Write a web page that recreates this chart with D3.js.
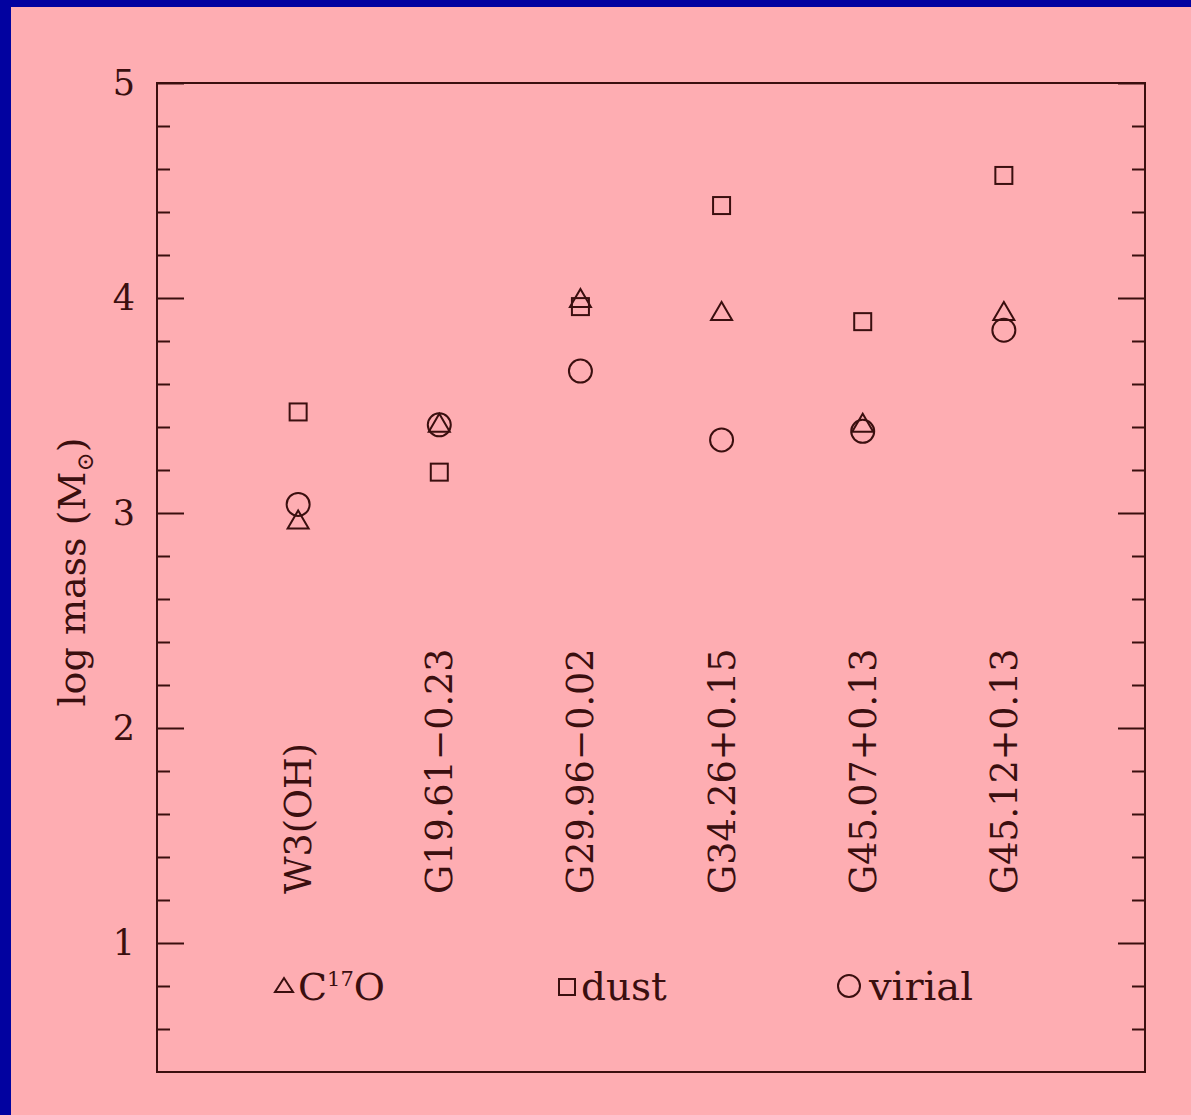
<!DOCTYPE html>
<html>
<head>
<meta charset="utf-8">
<script src="https://cdn.jsdelivr.net/npm/d3@7/dist/d3.min.js"></script>
<style>
  html, body { margin: 0; padding: 0; background: #feadb2; }
  svg { display: block; }
  text { font-family: "DejaVu Serif", "Liberation Serif", serif; fill: #3a0f0f; }
</style>
</head>
<body>
<script>
// Sources (one column each) and the three mass estimates, log10(M / Msun)
const sources = ["W3(OH)", "G19.61\u22120.23", "G29.96\u22120.02", "G34.26+0.15", "G45.07+0.13", "G45.12+0.13"];
const c17oMass  = [2.97, 3.42, 4.00, 3.94, 3.42, 3.94];
const dustMass  = [3.47, 3.19, 3.96, 4.43, 3.89, 4.57];
const virialMass = [3.04, 3.41, 3.66, 3.34, 3.38, 3.85];
const majorTicks = [1, 2, 3, 4, 5];
const minorTicks = [0.6, 0.8, 1.2, 1.4, 1.6, 1.8, 2.2, 2.4, 2.6, 2.8, 3.2, 3.4, 3.6, 3.8, 4.2, 4.4, 4.6, 4.8];

const W = 1191, H = 1115;
const ink = "#3a0f0f";
const frame = { left: 157, right: 1145, top: 83, bottom: 1072 };

const svg = d3.select("body").append("svg").attr("width", W).attr("height", H);

// page background with the blue edge on the top and left
svg.append("rect").attr("width", W).attr("height", H).attr("fill", "#0202a0");
svg.append("rect").attr("x", 11).attr("y", 7).attr("width", W - 11).attr("height", H - 7).attr("fill", "#feadb2");

const x = d3.scaleLinear().domain([0, 7]).range([frame.left, frame.right]);
const y = d3.scaleLinear().domain([0.4, 5]).range([frame.bottom, frame.top]);

// frame
svg.append("rect")
  .attr("x", frame.left).attr("y", frame.top)
  .attr("width", frame.right - frame.left).attr("height", frame.bottom - frame.top)
  .attr("fill", "none").attr("stroke", ink).attr("stroke-width", 2);

function styleAxis(g) {
  g.select(".domain").remove();
  g.selectAll("line").attr("stroke", ink).attr("stroke-width", 2);
  g.selectAll("text").attr("fill", ink).style("font-size", "35px")
    .style("font-family", "'DejaVu Serif', serif");
}

// left axis: inward ticks, numbers outside
svg.append("g").attr("transform", `translate(${frame.left},0)`)
  .call(d3.axisLeft(y).tickValues(majorTicks).tickSizeInner(-27).tickSizeOuter(0)
    .tickPadding(22).tickFormat(d3.format("d")))
  .call(styleAxis);
svg.append("g").attr("transform", `translate(${frame.left},0)`)
  .call(d3.axisLeft(y).tickValues(minorTicks).tickSizeInner(-13).tickSizeOuter(0).tickFormat(""))
  .call(styleAxis);

// right axis: inward ticks only
svg.append("g").attr("transform", `translate(${frame.right},0)`)
  .call(d3.axisRight(y).tickValues(majorTicks).tickSizeInner(-27).tickSizeOuter(0).tickFormat(""))
  .call(styleAxis);
svg.append("g").attr("transform", `translate(${frame.right},0)`)
  .call(d3.axisRight(y).tickValues(minorTicks).tickSizeInner(-13).tickSizeOuter(0).tickFormat(""))
  .call(styleAxis);

// y-axis title
const ylab = svg.append("text")
  .attr("transform", `translate(85,572) rotate(-90)`)
  .attr("text-anchor", "middle")
  .style("font-size", "38px");
ylab.append("tspan").text("log mass (M");
ylab.append("tspan").attr("dy", 8).style("font-size", "23px").text("\u2299");
ylab.append("tspan").attr("dy", -8).text(")");

// source names, written vertically inside the frame
svg.append("g").selectAll("text").data(sources).join("text")
  .attr("transform", (d, i) => `translate(${x(i + 1) + 13},894) rotate(-90)`)
  .attr("text-anchor", "start")
  .style("font-size", "36.5px")
  .text(d => d);

// marker shapes
const triPath = (w, h) => `M${-w / 2},${h / 2}L${w / 2},${h / 2}L0,${-h / 2}Z`;
const markStyle = sel => sel.attr("fill", "none").attr("stroke", ink).attr("stroke-width", 2);

const pts = svg.append("g");
pts.selectAll("path.tri").data(c17oMass).join("path").attr("class", "tri")
  .attr("d", triPath(21, 18))
  .attr("transform", (d, i) => `translate(${x(i + 1)},${y(d)})`)
  .call(markStyle);
pts.selectAll("rect.sq").data(dustMass).join("rect").attr("class", "sq")
  .attr("x", (d, i) => x(i + 1) - 8.5).attr("y", d => y(d) - 8.5)
  .attr("width", 17).attr("height", 17)
  .call(markStyle);
pts.selectAll("circle.vir").data(virialMass).join("circle").attr("class", "vir")
  .attr("cx", (d, i) => x(i + 1)).attr("cy", d => y(d)).attr("r", 11.5)
  .call(markStyle);

// key
const key = svg.append("g");
key.append("path").attr("d", triPath(18, 14)).attr("transform", "translate(284,985)").call(markStyle);
const k1 = key.append("text").attr("x", 298).attr("y", 1000).style("font-size", "38px");
k1.append("tspan").text("C");
k1.append("tspan").attr("dy", -14).style("font-size", "21px").text("17");
k1.append("tspan").attr("dy", 14).text("O");

key.append("rect").attr("x", 559).attr("y", 979).attr("width", 16).attr("height", 16).call(markStyle);
key.append("text").attr("x", 581).attr("y", 1000).style("font-size", "39px").text("dust");

key.append("circle").attr("cx", 849).attr("cy", 986).attr("r", 11).call(markStyle);
key.append("text").attr("x", 869).attr("y", 1000).style("font-size", "40px").text("virial");
</script>
</body>
</html>
